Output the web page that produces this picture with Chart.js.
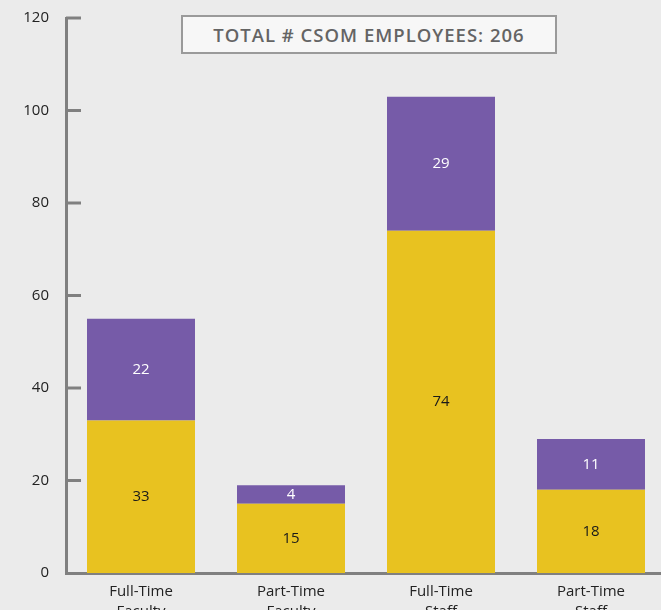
<!DOCTYPE html>
<html>
<head>
<meta charset="utf-8">
<script src="https://cdn.jsdelivr.net/npm/chart.js@4/dist/chart.umd.min.js"></script>
<style>
  html, body { margin: 0; padding: 0; background: #ebebeb; overflow: hidden; }
  #wrap { position: relative; width: 668px; height: 610px; }
  #title {
    position: absolute; left: 181px; top: 15px; width: 376px; height: 39px;
    box-sizing: border-box; border: 2px solid #9a9a9a; background: #f7f7f7;
    display: flex; align-items: center; justify-content: center; color: #646464;
    font: 600 18.5px "Open Sans", sans-serif; letter-spacing: 1px;
  }
</style>
</head>
<body>
<div id="wrap">
  <canvas id="myChart"></canvas>
  <div id="title">TOTAL # CSOM EMPLOYEES: 206</div>
</div>
<script>
const categories = [
    ['Full-Time', 'Faculty'],
    ['Part-Time', 'Faculty'],
    ['Full-Time', 'Staff'],
    ['Part-Time', 'Staff'],
];
const yellowValues = [33, 15, 74, 18];
const purpleValues = [22, 4, 29, 11];
const yMax = 120;
const yStep = 20;

const axisGrey = '#808080';

// value labels in the middle of each segment
const segmentLabels = {
    id: 'segmentLabels',
    afterDatasetsDraw(chart) {
        const ctx = chart.ctx;
        ctx.save();
        ctx.font = '15px "Open Sans", sans-serif';
        ctx.textAlign = 'center';
        ctx.textBaseline = 'middle';
        chart.data.datasets.forEach((ds, i) => {
            const meta = chart.getDatasetMeta(i);
            ctx.fillStyle = ds.labelColor;
            meta.data.forEach((bar, j) => {
                ctx.fillText(ds.data[j], bar.x, (bar.y + bar.base) / 2);
            });
        });
        ctx.restore();
    }
};

// short tick marks pointing into the plot
const innerTicks = {
    id: 'innerTicks',
    afterDraw(chart) {
        const ctx = chart.ctx;
        const y = chart.scales.y;
        const left = chart.chartArea.left;
        ctx.save();
        ctx.strokeStyle = axisGrey;
        ctx.lineWidth = 3;
        y.ticks.forEach(t => {
            if (t.value === 0) return;
            const py = y.getPixelForValue(t.value);
            ctx.beginPath();
            ctx.moveTo(left, py);
            ctx.lineTo(left + 15, py);
            ctx.stroke();
        });
        ctx.restore();
    }
};

const data = {
    labels: categories,
    datasets: [{
        data: yellowValues,
        backgroundColor: '#e8c220',
        labelColor: '#1a1a1a'
    },
    {
        data: purpleValues,
        backgroundColor: '#765ba8',
        labelColor: '#ffffff'
    }]
};

const config = {
    type: 'bar',
    data,
    options: {
        responsive: true,
        maintainAspectRatio: false,
        animation: false,
        layout: { padding: { top: 6, right: 2, left: 0, bottom: 0 } },
        datasets: { bar: { categoryPercentage: 1, barPercentage: 0.72 } },
        plugins: { legend: { display: false }, tooltip: { enabled: false } },
        scales: {
            x: {
                stacked: true,
                grid: { display: false },
                border: { display: true, color: axisGrey, width: 3 },
                ticks: {
                    color: '#222',
                    padding: 1,
                    maxRotation: 0,
                    font: { family: '"Open Sans", sans-serif', size: 15, lineHeight: 1.3 }
                },
                afterFit(scale) { scale.height = 37; }
            },
            y: {
                stacked: true,
                min: 0,
                max: yMax,
                grid: { display: false },
                border: { display: true, color: axisGrey, width: 3 },
                ticks: {
                    stepSize: yStep,
                    color: '#222',
                    padding: 9,
                    font: { family: '"Open Sans", sans-serif', size: 15 }
                },
                afterFit(scale) { scale.width = 66; }
            }
        }
    },
    plugins: [segmentLabels, innerTicks]
};

const myChart = new Chart(
    document.getElementById('myChart'),
    config
);
</script>
</body>
</html>
